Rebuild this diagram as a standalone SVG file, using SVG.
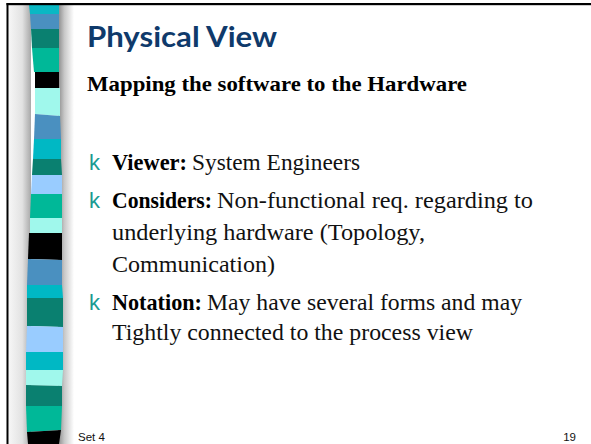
<svg xmlns="http://www.w3.org/2000/svg" width="591" height="444" viewBox="0 0 591 444">
<defs>
<linearGradient id="lg" x1="0" y1="0" x2="1" y2="0">
<stop offset="0" stop-color="#f6f6f6"/>
<stop offset="0.6" stop-color="#e2e2e2"/>
<stop offset="1" stop-color="#a8a8a8"/>
</linearGradient>
<linearGradient id="rg" x1="0" y1="0" x2="1" y2="0">
<stop offset="0" stop-color="#8a8a8a"/>
<stop offset="0.4" stop-color="#c8c8c8"/>
<stop offset="1" stop-color="#ffffff"/>
</linearGradient>
<style>
.t{font-family:"Lato","Open Sans",sans-serif;font-weight:bold;fill:#0f3a6b;font-size:29px}
.s{font-family:"Liberation Serif",serif;font-weight:bold;font-size:21px;fill:#000}
.b{font-family:"Liberation Serif",serif;font-size:24px;fill:#111}
.bb{font-family:"Liberation Serif",serif;font-weight:bold;font-size:24px;fill:#000}
.k{font-family:"Liberation Sans",sans-serif;font-size:22px;fill:#1b9a92}
.f{font-family:"Liberation Sans",sans-serif;font-size:11.5px;fill:#111}
</style>
</defs>
<rect width="591" height="444" fill="#fff"/>
<g id="sidebar">
<rect x="9" y="5" width="22" height="439" fill="url(#lg)"/>
<rect x="58" y="5" width="16" height="439" fill="url(#rg)"/>
<polygon points="29,5 59,5 59,14 30,14" fill="#0ab8c4"/>
<polygon points="30,14 59,14 59,29 31,29" fill="#4a90c0"/>
<polygon points="31,29 59,29 59,48 32,48" fill="#0a8070"/>
<polygon points="32,48 59,48 59,72 34,72" fill="#00b898"/>
<polygon points="35,72 59,72 59,88 35,88" fill="#000"/>
<polygon points="35,88 60,88 60,116 35,114" fill="#a0f8ec"/>
<polygon points="35,114 60,116 61,139 34,139" fill="#4a90c0"/>
<polygon points="34,139 61,139 61,159 33,159" fill="#00b8c4"/>
<polygon points="33,159 61,159 62,175 32,175" fill="#0a8070"/>
<polygon points="32,175 62,175 62,194 31,194" fill="#99ccff"/>
<polygon points="31,194 62,194 62,218 30,218" fill="#00b898"/>
<polygon points="30,218 62,218 62,233 30,233" fill="#a0f8ec"/>
<polygon points="29,233 62,233 62,260 28,259" fill="#000"/>
<polygon points="28,259 62,260 62,285 27,285" fill="#4a90c0"/>
<polygon points="27,285 62,285 63,298 27,298" fill="#00b8c4"/>
<polygon points="27,298 63,298 63,327 27,326" fill="#0a8070"/>
<polygon points="27,326 63,327 63,352 26,352" fill="#99ccff"/>
<polygon points="26,352 63,352 63,370 26,370" fill="#00b8c4"/>
<polygon points="26,370 63,370 62,386 26,385" fill="#a0f8ec"/>
<polygon points="26,385 62,386 62,406 26,406" fill="#0a8070"/>
<polygon points="26,406 62,406 61,430 27,432" fill="#00b898"/>
<polygon points="27,432 61,430 59,444 28,444" fill="#000"/>
<rect x="6.5" y="3" width="2" height="441" fill="#000"/>
<rect x="6.5" y="3" width="584.5" height="2.2" fill="#000"/>
</g>
<g id="title">
<text class="t" x="87" y="47" textLength="190" lengthAdjust="spacingAndGlyphs">Physical View</text>
<text class="s" x="87" y="91" textLength="380" lengthAdjust="spacingAndGlyphs">Mapping the software to the Hardware</text>
</g>
<g id="bullets">
<text class="k" x="89" y="170">k</text>
<text class="bb" x="112" y="170" textLength="75" lengthAdjust="spacingAndGlyphs">Viewer:</text>
<text class="b" x="192" y="170" textLength="168" lengthAdjust="spacingAndGlyphs">System Engineers</text>
<text class="k" x="89" y="208">k</text>
<text class="bb" x="112" y="208" textLength="100" lengthAdjust="spacingAndGlyphs">Considers:</text>
<text class="b" x="217" y="208" textLength="316" lengthAdjust="spacingAndGlyphs">Non-functional req. regarding to</text>
<text class="b" x="112" y="240" textLength="313" lengthAdjust="spacingAndGlyphs">underlying hardware (Topology,</text>
<text class="b" x="112" y="272" textLength="163" lengthAdjust="spacingAndGlyphs">Communication)</text>
<text class="k" x="89" y="310">k</text>
<text class="bb" x="112" y="310" textLength="90" lengthAdjust="spacingAndGlyphs">Notation:</text>
<text class="b" x="207" y="310" textLength="315" lengthAdjust="spacingAndGlyphs">May have several forms and may</text>
<text class="b" x="112" y="340" textLength="361" lengthAdjust="spacingAndGlyphs">Tightly connected to the process view</text>
</g>
<g id="footer">
<text class="f" x="78" y="441">Set 4</text>
<text class="f" x="576" y="441" text-anchor="end">19</text>
</g>
</svg>
